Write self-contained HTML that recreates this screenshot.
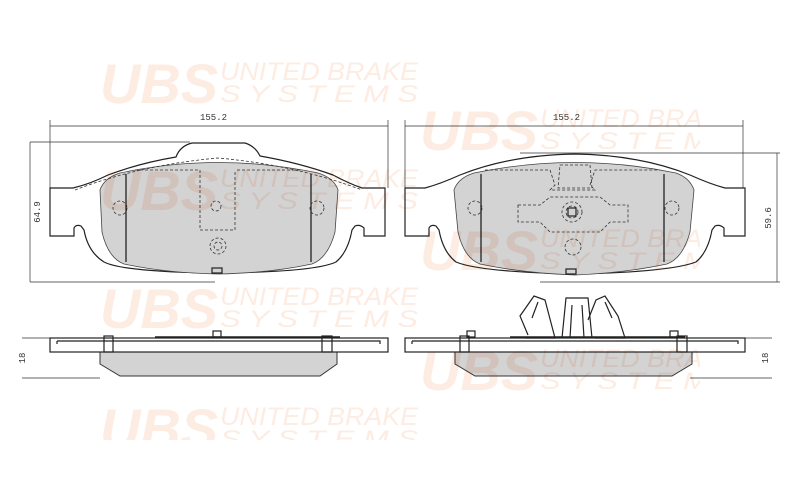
<!DOCTYPE html>
<html><head><meta charset="utf-8"><style>
html,body{margin:0;padding:0;background:#fff;}
svg{display:block;}
.wm{fill:#fcd9c6;font-family:"Liberation Sans",sans-serif;font-style:italic;}
.ln{fill:none;stroke:#222;stroke-width:1.2;}
.dim{fill:none;stroke:#333;stroke-width:0.7;}
.ds{fill:none;stroke:#333;stroke-width:0.8;stroke-dasharray:3,2;}
.t{font-family:"Liberation Mono",monospace;font-size:9px;fill:#333;}
</style></head><body>
<svg width="800" height="492" viewBox="0 0 800 492" xmlns="http://www.w3.org/2000/svg">
<defs>
<clipPath id="cr"><rect x="0" y="0" width="700" height="492"/></clipPath>
<clipPath id="cb"><rect x="0" y="0" width="800" height="440"/></clipPath>
<g id="wm">
<text class="wm" x="0" y="45" font-size="56" font-weight="bold" textLength="118" lengthAdjust="spacingAndGlyphs">UBS</text>
<text class="wm" x="120" y="22" font-size="25" textLength="198" lengthAdjust="spacingAndGlyphs">UNITED BRAKE</text>
<text class="wm" x="120" y="44" font-size="24" textLength="198" lengthAdjust="spacingAndGlyphs">S Y S T E M S</text>
</g>
</defs>

<path d="M50,126 L388,126 M50,120 L50,188 M388,120 L388,188" class="dim"/>
<text class="t" x="200" y="120">155.2</text>
<path d="M30,142 L30,282 M30,142 L190,142 M30,282 L215,282" class="dim"/>
<text class="t" transform="translate(40,212) rotate(-90)" text-anchor="middle">64.9</text>
<path class="ln" d="M50,188 L73,188 Q90,184 108,175 Q140,163 176,157 Q180,146 192,143 L245,143 Q255,146 260,156 Q300,163 333,175 Q350,184 362,188 L385,188 L385,236 L364,236 L364,228 Q360,224 355,226 L352,230 Q348,252 336,262 Q315,272 218,273 Q124,272 104,262 Q88,252 84,230 L81,226 Q76,224 74,228 L74,236 L50,236 Z"/>
<path d="M100,190 Q104,178 120,173 Q218,152 318,173 Q334,178 338,190 L335,232 Q328,258 312,264 Q270,273 218,274 Q166,273 124,264 Q108,258 102,232 Z" fill="#d3d3d3" stroke="#444" stroke-width="0.8"/>
<path class="ds" d="M75,190 Q140,165 218,158 Q296,165 362,190"/>
<path d="M126,174 L126,262 M311,174 L311,262" stroke="#222" stroke-width="1.3"/>
<path class="ds" d="M200,170 L200,230 L235,230 L235,170 M237,170 L300,170 M135,170 L198,170"/>
<circle cx="216" cy="206" r="5" class="ds"/>
<circle cx="218" cy="246" r="8" class="ds"/><circle cx="218" cy="246" r="4" class="ds"/>
<circle cx="120" cy="208" r="7" class="ds"/>
<circle cx="317" cy="208" r="7" class="ds"/>
<rect x="212" y="268" width="10" height="5" class="ln" stroke-width="0.8"/>

<path d="M405,126 L743,126 M405,120 L405,188 M743,120 L743,188" class="dim"/>
<text class="t" x="553" y="120">155.2</text>
<path d="M520,153 L780,153 M540,282 L780,282 M777,153 L777,282" class="dim"/>
<text class="t" transform="translate(771,218) rotate(-90)" text-anchor="middle">59.6</text>
<path class="ln" d="M405,188 L425,188 Q440,184 460,175 Q510,155 575,154 Q640,155 690,175 Q710,184 725,188 L745,188 L745,236 L724,236 L724,228 Q720,224 715,226 L712,230 Q708,252 696,262 Q670,272 575,274 Q480,272 456,262 Q443,252 439,230 L436,226 Q431,224 429,228 L429,236 L405,236 Z"/>
<path d="M454,190 Q458,178 474,173 Q575,152 676,173 Q690,178 694,190 L690,232 Q683,258 667,264 Q625,273 575,275 Q522,273 480,264 Q464,258 458,232 Z" fill="#d3d3d3" stroke="#444" stroke-width="0.8"/>
<path d="M481,174 L481,262 M664,174 L664,262" stroke="#222" stroke-width="1.3"/>
<path class="ds" d="M485,170 L550,170 L555,185 L550,190 L595,190 L590,185 L595,170 L660,170"/>
<path class="ds" d="M518,205 L540,205 L550,197 L600,197 L610,205 L628,205 L628,222 L610,222 L600,232 L550,232 L540,222 L518,222 Z"/>
<path class="ds" d="M560,165 L590,165 L592,188 L558,188 Z"/>
<circle cx="572" cy="212" r="10" class="ds"/><circle cx="572" cy="212" r="6" class="ds"/>
<rect x="568" y="208" width="8" height="8" class="ln" stroke-width="0.8"/>
<circle cx="573" cy="247" r="8" class="ds"/>
<circle cx="475" cy="208" r="7" class="ds"/>
<circle cx="672" cy="208" r="7" class="ds"/>
<rect x="566" y="269" width="10" height="5" class="ln" stroke-width="0.8"/>

<path d="M22,338 L50,338 M22,378 L100,378" class="dim"/>
<text class="t" transform="translate(25,358) rotate(-90)" text-anchor="middle">18</text>
<path d="M100,352 L337,352 L337,364 L320,376 L120,376 L100,364 Z" fill="#d3d3d3" stroke="#333" stroke-width="1"/>
<rect x="50" y="338" width="338" height="14" class="ln"/>
<path d="M57,341 L380,341 L380,344 M57,341 L57,344" class="ln" stroke-width="0.8"/>
<path d="M155,337 L340,337" stroke="#222" stroke-width="1.5"/>
<rect x="104" y="336" width="9" height="16" fill="#fff" class="ln" stroke-width="0.9"/>
<rect x="322" y="336" width="10" height="16" fill="#fff" class="ln" stroke-width="0.9"/>
<rect x="213" y="331" width="8" height="6" fill="#fff" class="ln" stroke-width="0.9"/>

<path d="M745,338 L772,338 M690,378 L772,378" class="dim"/>
<text class="t" transform="translate(768,358) rotate(-90)" text-anchor="middle">18</text>
<path d="M455,352 L692,352 L692,364 L672,376 L475,376 L455,364 Z" fill="#d3d3d3" stroke="#333" stroke-width="1"/>
<rect x="405" y="338" width="340" height="14" class="ln"/>
<path d="M412,341 L738,341 L738,344 M412,341 L412,344" class="ln" stroke-width="0.8"/>
<path d="M510,337 L685,337" stroke="#222" stroke-width="1.5"/>
<rect x="460" y="336" width="9" height="16" fill="#fff" class="ln" stroke-width="0.9"/>
<rect x="677" y="336" width="10" height="16" fill="#fff" class="ln" stroke-width="0.9"/>
<rect x="467" y="331" width="8" height="6" fill="#fff" class="ln" stroke-width="0.9"/>
<rect x="670" y="331" width="8" height="6" fill="#fff" class="ln" stroke-width="0.9"/>
<path class="ln" d="M525,338 L555,338 L545,300 L534,296 L520,316 L528,335 M532,318 L538,302 M595,338 L625,338 L618,316 L605,296 L596,300 L588,320 M612,318 L605,302"/>
<path class="ln" d="M562,338 L566,298 L588,298 L592,338 M570,338 L572,305 M584,338 L582,305"/>

<g style="mix-blend-mode:multiply" opacity="0.5">
<use href="#wm" x="100" y="58"/>
<g clip-path="url(#cr)"><use href="#wm" x="420" y="105"/></g>
<use href="#wm" x="100" y="165"/>
<g clip-path="url(#cr)"><use href="#wm" x="420" y="225"/></g>
<use href="#wm" x="100" y="283"/>
<g clip-path="url(#cr)"><use href="#wm" x="420" y="345"/></g>
<g clip-path="url(#cb)"><use href="#wm" x="100" y="403"/></g>
</g>
</svg>
</body></html>
